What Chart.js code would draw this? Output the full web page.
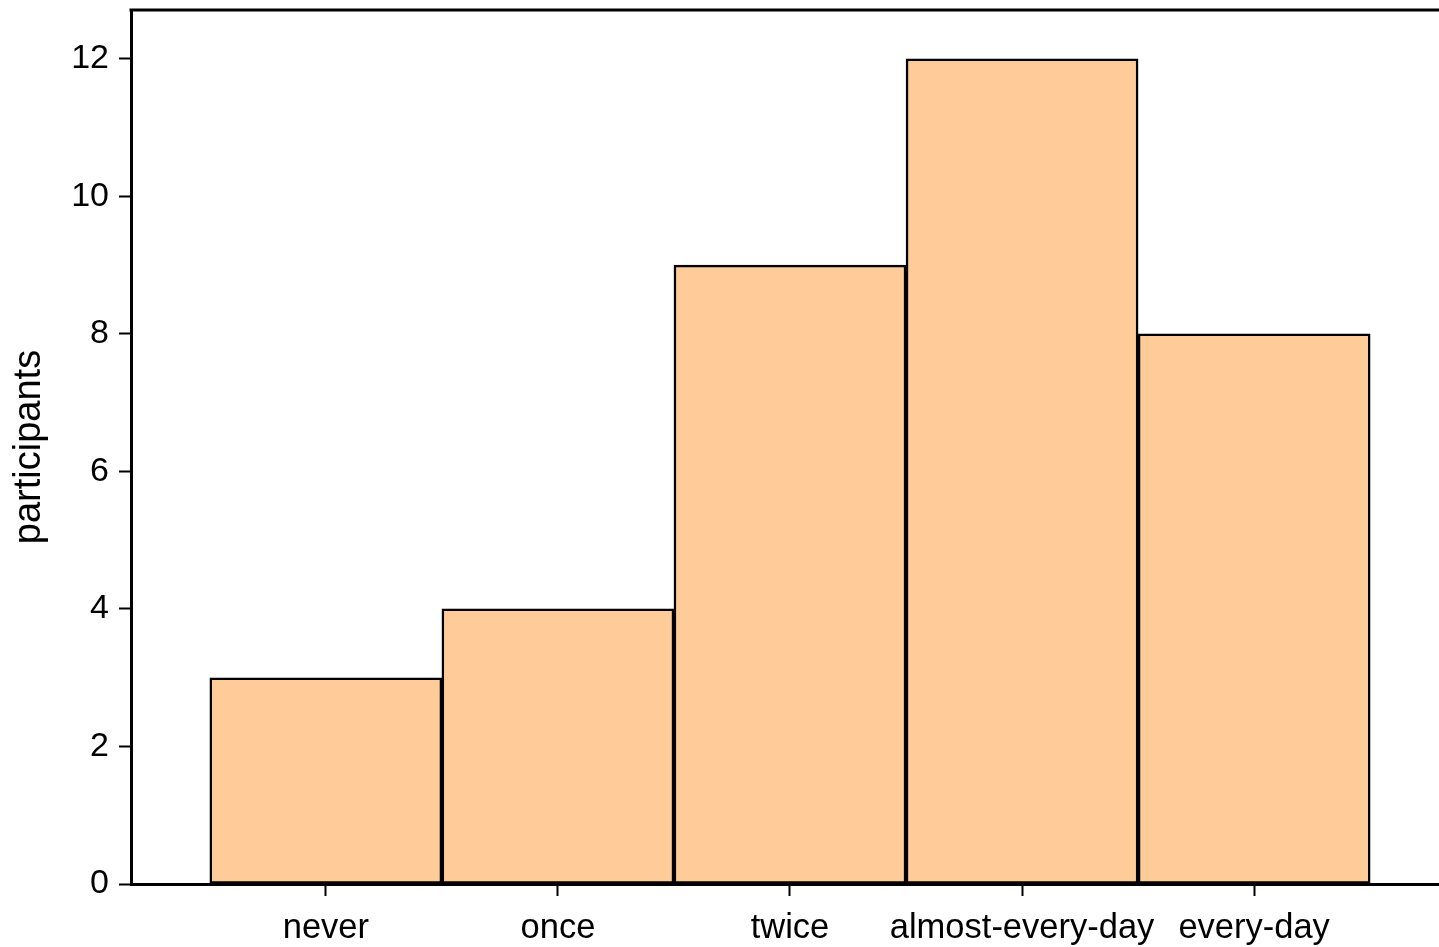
<!DOCTYPE html>
<html>
<head>
<meta charset="utf-8">
<script src="https://cdn.jsdelivr.net/npm/chart.js@4"></script>
<style>
  html, body { margin: 0; padding: 0; background: #fff; }
  #wrap { width: 1439px; height: 947px; }
</style>
</head>
<body>
<div id="wrap"><canvas id="barChart" width="1439" height="947"></canvas></div>
<script>
const categories = ['never', 'once', 'twice', 'almost-every-day', 'every-day'];
const participants = [3, 4, 9, 12, 8];
const yTicks = [0, 2, 4, 6, 8, 10, 12];

const FONT = "'Liberation Sans', Arial, sans-serif";

// draws the top frame line of the plot area
const topFrame = {
    id: 'topFrame',
    afterDraw(chart) {
        const { ctx, chartArea } = chart;
        ctx.save();
        ctx.strokeStyle = '#000';
        ctx.lineWidth = 3;
        ctx.beginPath();
        ctx.moveTo(chartArea.left - 1.5, chartArea.top);
        ctx.lineTo(chartArea.right, chartArea.top);
        ctx.stroke();
        ctx.restore();
    }
};

new Chart(document.getElementById('barChart').getContext('2d'), {
    type: 'bar',
    data: {
        datasets: [{
            label: 'participants',
            data: participants.map((v, i) => ({ x: i, y: v })),
            backgroundColor: '#FFCC99',
            borderColor: '#000',
            borderWidth: 2.5,
            borderSkipped: false,
            barPercentage: 1,
            categoryPercentage: 1
        }]
    },
    options: {
        responsive: false,
        animation: false,
        layout: { padding: { top: 10, right: 0, left: 0, bottom: 0 } },
        plugins: { legend: { display: false }, tooltip: { enabled: false } },
        scales: {
            x: {
                type: 'linear',
                offset: false,
                min: -0.8396,
                max: 4.7966,
                afterBuildTicks: scale => { scale.ticks = categories.map((c, i) => ({ value: i })); },
                afterFit: scale => { scale.height = 63; scale.paddingLeft = 0; scale.paddingRight = 0; },
                grid: { offset: false, drawOnChartArea: false, color: '#000', tickLength: 12, tickWidth: 2 },
                border: { display: true, color: '#000', width: 3 },
                ticks: {
                    color: '#000',
                    padding: 12,
                    maxRotation: 0,
                    autoSkip: false,
                    font: { family: FONT, size: 34.5 },
                    callback: v => categories[v]
                }
            },
            y: {
                min: 0,
                max: 12.71,
                afterBuildTicks: scale => { scale.ticks = yTicks.map(v => ({ value: v })); },
                afterFit: scale => { scale.width = 131; scale.paddingTop = 0; scale.paddingBottom = 0; },
                grid: { drawOnChartArea: false, color: '#000', tickLength: 12, tickWidth: 2 },
                border: { display: true, color: '#000', width: 3 },
                ticks: {
                    color: '#000',
                    padding: 10,
                    font: { family: FONT, size: 34 }
                },
                title: {
                    display: true,
                    text: 'participants',
                    color: '#000',
                    padding: { top: 7, bottom: 0 },
                    font: { family: FONT, size: 38 }
                }
            }
        }
    },
    plugins: [topFrame]
});
</script>
</body>
</html>
